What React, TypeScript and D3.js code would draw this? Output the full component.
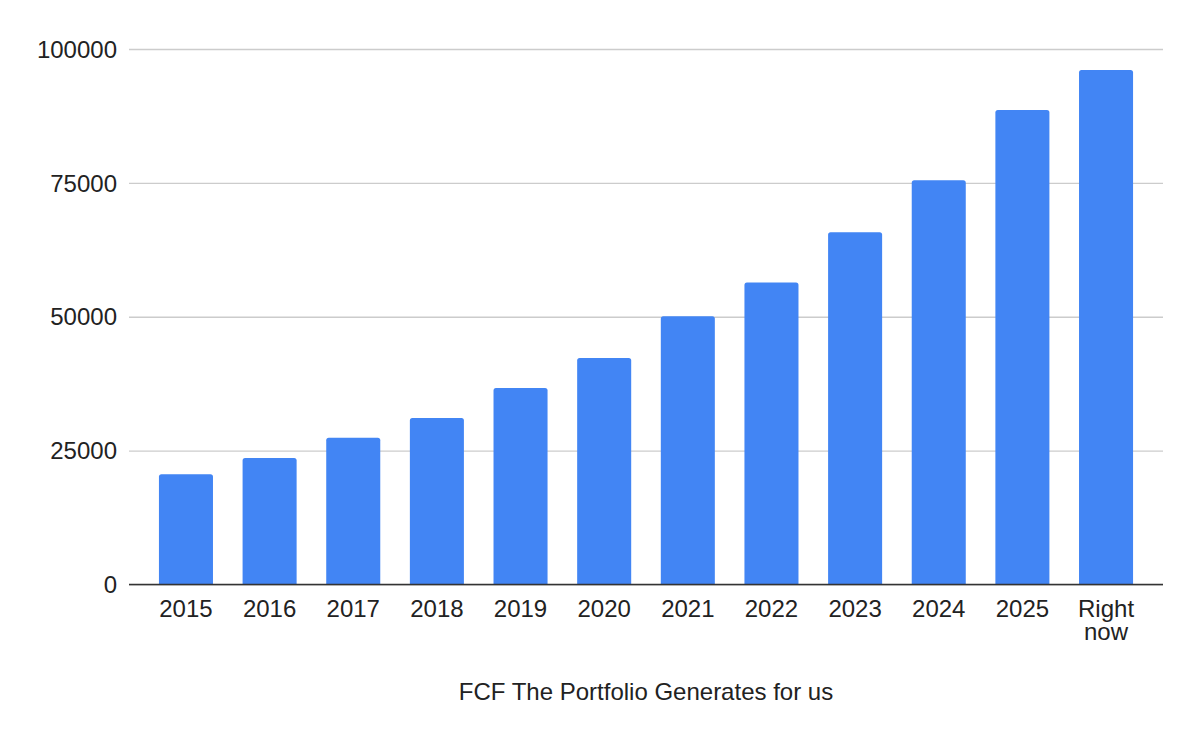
import { useEffect, useRef } from 'react';
import * as d3 from 'd3';

const categories = ['2015', '2016', '2017', '2018', '2019', '2020', '2021', '2022', '2023', '2024', '2025', 'Right now'];
const values = [20600, 23600, 27400, 31100, 36700, 42300, 50100, 56400, 65800, 75500, 88600, 96100];
const yTicks = [0, 25000, 50000, 75000, 100000];
const xTitle = 'FCF The Portfolio Generates for us';

const WIDTH = 1200;
const HEIGHT = 742;
const FONT = 'Liberation Sans, Arial, sans-serif';
const FS = 24;

function BarChart() {
  const svgRef = useRef<SVGSVGElement>(null);

  useEffect(() => {
    if (!svgRef.current) return;
    const margin = { top: 49, right: 37, bottom: 157.5, left: 129 };
    const W = WIDTH - margin.left - margin.right;
    const H = HEIGHT - margin.top - margin.bottom;

    const svg = d3.select(svgRef.current);
    svg.selectAll('*').remove();
    svg.attr('width', WIDTH).attr('height', HEIGHT);
    svg.append('rect').attr('width', WIDTH).attr('height', HEIGHT).attr('fill', '#fff');

    const g = svg.append('g').attr('transform', `translate(${margin.left},${margin.top})`);

    const x = d3.scaleBand<string>().domain(categories).range([0, W])
      .paddingInner(0.354).paddingOuter(0.358);
    const y = d3.scaleLinear().domain([0, 100000]).range([H, 0]);

    // gridlines + y labels
    g.append('g')
      .call(d3.axisLeft(y).tickValues(yTicks).tickSize(-W).tickPadding(12).tickFormat(d => String(d)))
      .call(s => s.select('.domain').remove())
      .call(s => s.selectAll('.tick line').attr('stroke', '#cccccc').attr('stroke-width', 1.3))
      .call(s => s.selectAll('.tick text')
        .attr('fill', '#222').attr('font-size', FS).attr('font-family', FONT).attr('dy', '0.34em'));

    // bars with slightly rounded tops
    const r = 2.5;
    g.append('g').selectAll('path').data(categories).join('path')
      .attr('fill', '#4285f4')
      .attr('d', (c, i) => {
        const x0 = x(c)!;
        const x1 = x0 + x.bandwidth();
        const y0 = y(values[i]);
        const yb = y(0);
        return `M${x0},${yb}V${y0 + r}Q${x0},${y0} ${x0 + r},${y0}H${x1 - r}Q${x1},${y0} ${x1},${y0 + r}V${yb}Z`;
      });

    // x axis line
    g.append('line').attr('x1', 0).attr('x2', W).attr('y1', y(0)).attr('y2', y(0))
      .attr('stroke', '#333').attr('stroke-width', 1.7);

    // x labels (wrapped on spaces)
    const labels = g.append('g').selectAll('text').data(categories).join('text')
      .attr('x', c => x(c)! + x.bandwidth() / 2)
      .attr('y', y(0) + 32)
      .attr('text-anchor', 'middle')
      .attr('fill', '#222').attr('font-size', FS).attr('font-family', FONT);
    labels.each(function (c) {
      const t = d3.select(this);
      c.split(' ').forEach((w, i) => {
        t.append('tspan').attr('x', x(c)! + x.bandwidth() / 2).attr('dy', i === 0 ? 0 : 23.5).text(w);
      });
    });

    // axis title
    g.append('text').attr('x', W / 2).attr('y', H + 115.5)
      .attr('text-anchor', 'middle').attr('fill', '#222')
      .attr('font-size', FS).attr('font-family', FONT).text(xTitle);
  }, []);

  return <svg ref={svgRef} style={{ display: 'block' }} />;
}

export default function App() {
  return (
    <div style={{ position: 'absolute', left: 0, top: 0, width: WIDTH, height: HEIGHT }}>
      <BarChart />
    </div>
  );
}
